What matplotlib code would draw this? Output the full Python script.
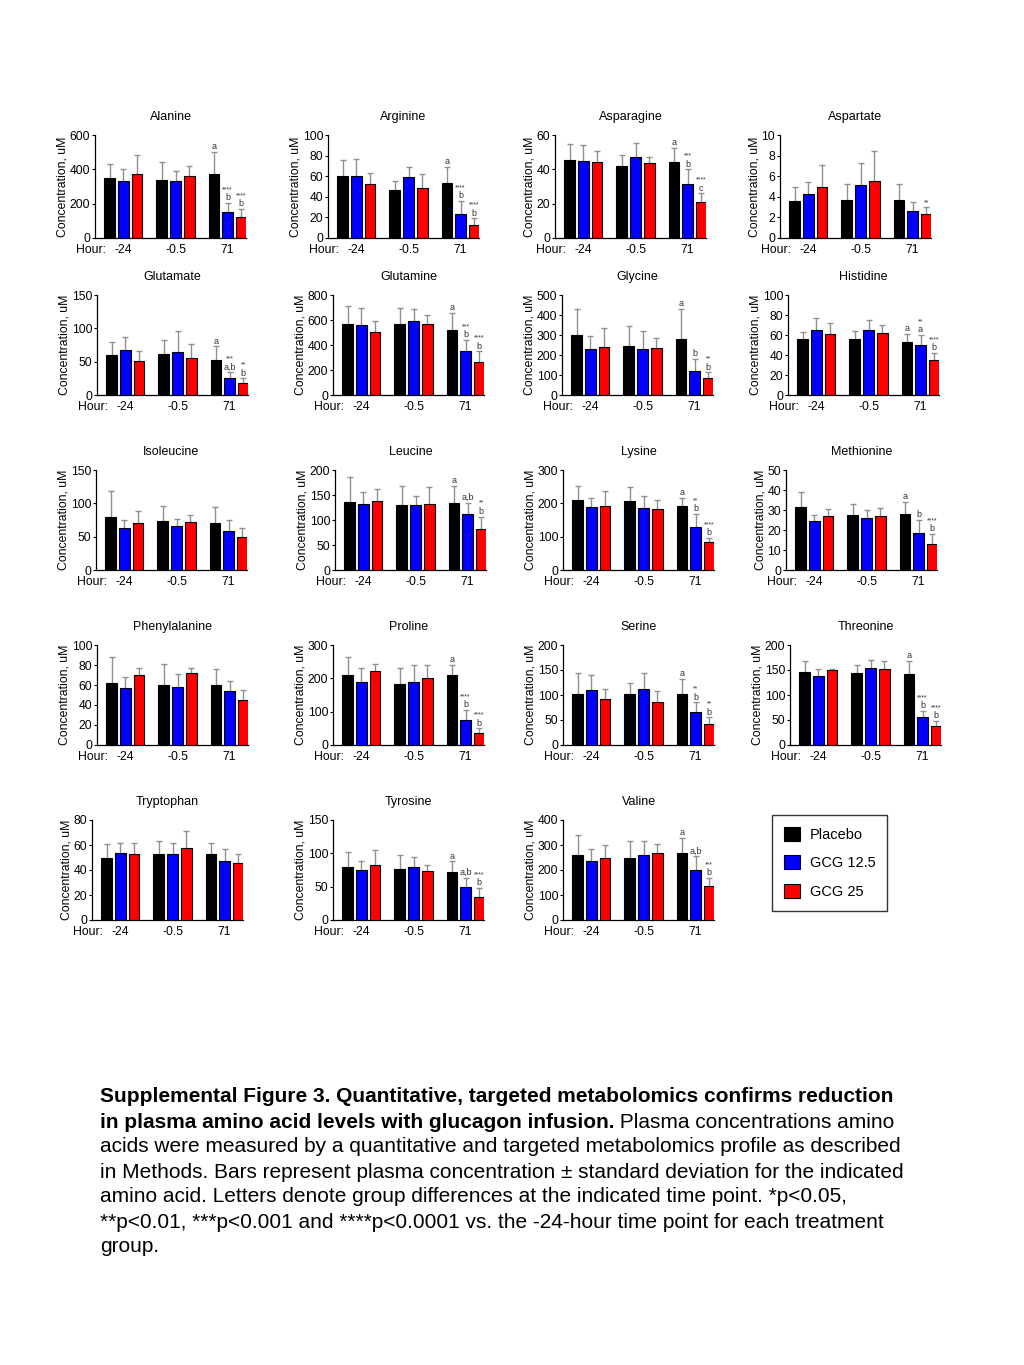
import numpy as np
import matplotlib.pyplot as plt
from matplotlib.patches import Patch

plt.rcParams['font.family'] = ['Liberation Sans', 'DejaVu Sans']

# Amino acid panels
names = ['Alanine', 'Arginine', 'Asparagine', 'Aspartate',
         'Glutamate', 'Glutamine', 'Glycine', 'Histidine',
         'Isoleucine', 'Leucine', 'Lysine', 'Methionine',
         'Phenylalanine', 'Proline', 'Serine', 'Threonine',
         'Tryptophan', 'Tyrosine', 'Valine']
hours = ['-24', '-0.5', '71']
groups = ['Placebo', 'GCG 12.5', 'GCG 25']
colors = ['#000000', '#0000ff', '#ff0000']

# y axis max and tick step per panel
ymax = [600, 100, 60, 10, 150, 800, 500, 100, 150, 200, 300, 50,
        100, 300, 200, 200, 80, 150, 400]
ystep = [200, 20, 20, 2, 50, 200, 100, 20, 50, 50, 100, 10,
         20, 100, 50, 50, 20, 50, 100]

# means: rows = hour (-24, -0.5, 71), columns = Placebo, GCG 12.5, GCG 25
means = [
    [[350, 333, 372], [338, 330, 360], [370, 152, 122]],      # Alanine
    [[60, 60, 52], [47, 59, 49], [53, 23, 13]],               # Arginine
    [[45.5, 45, 44], [42, 47, 43.5], [44, 31.5, 21]],         # Asparagine
    [[3.6, 4.3, 5.0], [3.7, 5.1, 5.5], [3.7, 2.6, 2.3]],      # Aspartate
    [[60, 67, 51], [61, 65, 56], [52, 26, 18]],               # Glutamate
    [[565, 560, 508], [570, 590, 570], [522, 352, 268]],      # Glutamine
    [[302, 230, 242], [243, 232, 233], [278, 120, 86]],       # Glycine
    [[56.5, 65, 61.5], [56, 65, 62.5], [53, 50, 35]],         # Histidine
    [[79, 63, 71], [74, 66, 72], [71, 58, 50]],               # Isoleucine
    [[137, 132, 139], [130, 130, 132], [134, 112, 83]],       # Leucine
    [[210, 190, 191], [206, 187, 184], [191, 130, 85]],       # Lysine
    [[31.5, 24.5, 27], [27.5, 26, 27], [28, 18.5, 13]],       # Methionine
    [[62, 57, 70], [60, 58, 72], [60, 54, 45]],               # Phenylalanine
    [[210, 188, 222], [182, 188, 200], [210, 75, 35]],        # Proline
    [[103, 110, 92], [103, 113, 86], [103, 65, 42]],          # Serine
    [[147, 138, 150], [145, 155, 153], [143, 55, 38]],        # Threonine
    [[50, 54, 53], [53, 53, 58], [53, 47, 46]],               # Tryptophan
    [[80, 75, 82], [76, 80, 74], [72, 50, 35]],               # Tyrosine
    [[262, 238, 247], [247, 262, 270], [270, 200, 138]],      # Valine
]

# standard deviations, same layout
sds = [
    [[80, 67, 110], [107, 60, 60], [130, 53, 48]],
    [[16, 17, 11], [8, 10, 13], [16, 13, 6]],
    [[9.5, 9, 6.5], [6.5, 8.5, 3.5], [8.5, 8.5, 5]],
    [[1.4, 1.1, 2.1], [1.5, 2.2, 2.9], [1.5, 0.9, 0.7]],
    [[20, 20, 15], [21, 31, 20], [21, 8, 7]],
    [[145, 135, 82], [125, 95, 70], [133, 88, 82]],
    [[128, 65, 93], [102, 88, 52], [152, 60, 27]],
    [[6.5, 12, 10.5], [8, 10, 7.5], [8, 10, 7]],
    [[39, 12, 18], [22, 11, 11], [24, 17, 13]],
    [[49, 24, 24], [38, 18, 34], [34, 22, 24]],
    [[42, 27, 46], [43, 34, 26], [25, 38, 11]],
    [[7.5, 3, 3.5], [5.5, 4, 4], [6, 6.5, 5]],
    [[26, 11, 7], [21, 13, 5], [16, 10, 10]],
    [[55, 42, 20], [48, 52, 40], [30, 30, 15]],
    [[42, 30, 20], [22, 32, 22], [29, 20, 13]],
    [[21, 15, 3], [15, 15, 15], [25, 13, 10]],
    [[11, 8, 9], [10, 9, 13], [9, 10, 7]],
    [[22, 14, 23], [22, 15, 9], [16, 13, 13]],
    [[78, 47, 53], [68, 53, 35], [60, 55, 30]],
]

# significance marks at the 71 h time point (Placebo, GCG 12.5, GCG 25)
letters = [
    ['a', 'b', 'b'], ['a', 'b', 'b'], ['a', 'b', 'c'], ['', '', ''],
    ['a', 'a,b', 'b'], ['a', 'b', 'b'], ['a', 'b', 'b'], ['a', 'a', 'b'],
    ['', '', ''], ['a', 'a,b', 'b'], ['a', 'b', 'b'], ['a', 'b', 'b'],
    ['', '', ''], ['a', 'b', 'b'], ['a', 'b', 'b'], ['a', 'b', 'b'],
    ['', '', ''], ['a', 'a,b', 'b'], ['a', 'a,b', 'b'],
]
stars = [
    ['', '****', '****'], ['', '****', '****'], ['', '***', '****'], ['', '', '**'],
    ['', '***', '**'], ['', '***', '****'], ['', '', '**'], ['', '**', '****'],
    ['', '', ''], ['', '', '**'], ['', '**', '****'], ['', '', '****'],
    ['', '', ''], ['', '****', '****'], ['', '**', '**'], ['', '****', '****'],
    ['', '', ''], ['', '', '****'], ['', '', '***'],
]

W, H = 1024, 1365
fig = plt.figure(figsize=(W / 100, H / 100), dpi=100)

# panel layout in pixels
row_top = [135, 295, 470, 645, 820]
row_bot = [238, 395, 570, 745, 920]
col_left = [[95, 328, 555, 780], [97, 333, 562, 788], [96, 335, 563, 786],
            [97, 333, 563, 790], [92, 333, 563]]
panel_w = 151

xg = np.arange(3) * 3.8
offs = np.array([-1, 0, 1])
fs = 8.8

k = 0
for r in range(5):
    for c in range(len(col_left[r])):
        l = col_left[r][c]
        ax = fig.add_axes([l / W, 1 - row_bot[r] / H, panel_w / W,
                           (row_bot[r] - row_top[r]) / H])
        m = np.array(means[k])
        s = np.array(sds[k])
        for g in range(3):
            x = xg + offs[g]
            ax.bar(x, m[:, g], width=0.78, color=colors[g], edgecolor='black',
                   linewidth=0.8, zorder=3)
            ax.errorbar(x, m[:, g], yerr=s[:, g], fmt='none', ecolor='#909090',
                        elinewidth=1, capsize=2.5, capthick=1, zorder=2)
            top = m[2, g] + s[2, g]
            xx = xg[2] + offs[g]
            lt = letters[k][g]
            st = stars[k][g]
            if lt:
                ax.annotate(lt, (xx, top), xytext=(0, 0.5), textcoords='offset points',
                            ha='center', va='bottom', fontsize=6.5, color='#333333')
            if st:
                dy = 7 if lt else 0.5
                ax.annotate(st, (xx, top), xytext=(0, dy), textcoords='offset points',
                            ha='center', va='bottom', fontsize=5, color='#333333')
        ax.set_xlim(-2.07, 8.94)
        ax.set_ylim(0, ymax[k])
        ax.set_yticks(np.arange(0, ymax[k] + ystep[k] / 2, ystep[k]))
        ax.set_xticks(xg)
        ax.set_xticklabels(hours)
        ax.tick_params(axis='x', length=0, pad=4, labelsize=fs)
        ax.tick_params(axis='y', length=2.5, width=0.8, pad=1, labelsize=fs)
        for sp in ['top', 'right']:
            ax.spines[sp].set_visible(False)
        for sp in ['left', 'bottom']:
            ax.spines[sp].set_linewidth(0.9)
        ax.set_ylabel('Concentration, uM', fontsize=fs, labelpad=1)
        ax.set_title(names[k], fontsize=9, pad=11)
        ax.annotate('Hour:', (0.07, 0), xycoords='axes fraction', xytext=(0, -4),
                    textcoords='offset points', ha='right', va='top', fontsize=fs)
        k += 1

handles = [Patch(facecolor=colors[i], edgecolor='black', linewidth=0.8) for i in range(3)]
fig.legend(handles, groups, loc='upper left', bbox_to_anchor=(772 / W, 1 - 815 / H),
           fontsize=10.5, frameon=True, fancybox=False, edgecolor='black',
           handlelength=1.1, handleheight=1.1, labelspacing=0.95, borderpad=0.8,
           handletextpad=0.7, borderaxespad=0)

# caption
cap_fs = 15
x0 = 100 / W
line_y = [1097, 1122, 1147, 1172, 1197, 1222, 1247]
fig.text(x0, 1 - line_y[0] / H,
         'Supplemental Figure 3. Quantitative, targeted metabolomics confirms reduction',
         fontsize=cap_fs, fontweight='bold', va='center')
t2 = fig.text(x0, 1 - line_y[1] / H,
              'in plasma amino acid levels with glucagon infusion.',
              fontsize=cap_fs, fontweight='bold', va='center')
rest = ['acids were measured by a quantitative and targeted metabolomics profile as described',
        'in Methods. Bars represent plasma concentration \u00b1 standard deviation for the indicated',
        'amino acid. Letters denote group differences at the indicated time point. *p<0.05,',
        '**p<0.01, ***p<0.001 and ****p<0.0001 vs. the -24-hour time point for each treatment',
        'group.']
for i, s in enumerate(rest):
    fig.text(x0, 1 - line_y[i + 2] / H, s, fontsize=cap_fs, va='center')

# normal text right after the bold part of line 2
fig.canvas.draw()
bb = t2.get_window_extent()
fig.text(bb.x1 / W, 1 - line_y[1] / H, ' Plasma concentrations amino',
         fontsize=cap_fs, va='center')

fig.savefig('out.png', dpi=100)
